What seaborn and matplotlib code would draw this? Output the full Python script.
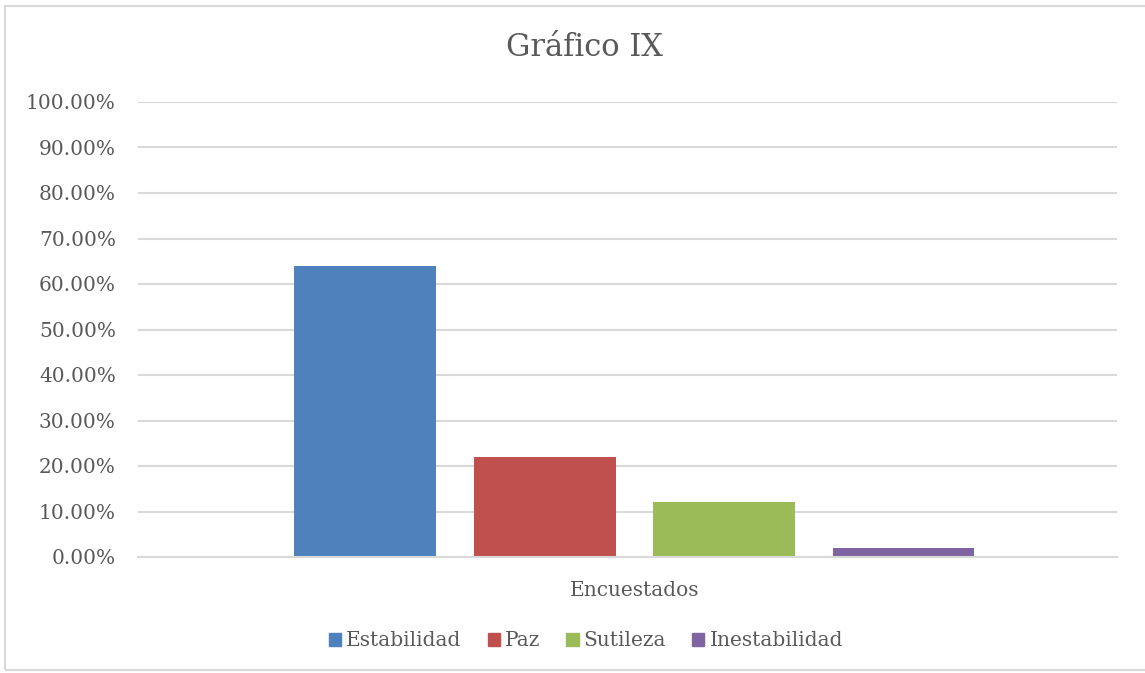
import matplotlib
matplotlib.use("Agg")
import matplotlib.pyplot as plt
import seaborn as sns
import pandas as pd
from matplotlib.patches import Rectangle
from matplotlib.ticker import FuncFormatter

# Survey results
category = ["Encuestados"]
series = ["Estabilidad", "Paz", "Sutileza", "Inestabilidad"]
values = [0.64, 0.22, 0.12, 0.02]
colors = ["#4f81bd", "#c0504d", "#9bbb59", "#8064a2"]
title = "Gráfico IX"

df = pd.DataFrame({"grupo": category * len(series), "serie": series, "valor": values})

sns.set_theme(style="white")
plt.rcParams["font.family"] = ["DejaVu Serif"]
text_color = "#595959"

fig = plt.figure(figsize=(11.45, 6.73), dpi=100)
ax = fig.add_axes([138 / 1145, 1 - 557 / 673, (1117 - 138) / 1145, (557 - 102) / 673])

sns.barplot(data=df, x="grupo", y="valor", hue="serie", hue_order=series,
            palette=colors, width=0.733, gap=0.21, saturation=1, ax=ax,
            legend=False, errorbar=None, linewidth=0)

ax.set_ylim(0, 1.0)
ax.set_xlim(-0.507, 0.493)
ax.set_yticks([i / 10 for i in range(11)])
ax.yaxis.set_major_formatter(FuncFormatter(lambda v, _: f"{v * 100:.2f}%"))
ax.yaxis.grid(True, color="#d9d9d9", linewidth=1.5)
ax.set_axisbelow(True)
for s in ["top", "right", "left"]:
    ax.spines[s].set_visible(False)
ax.spines["bottom"].set_color("#d9d9d9")
ax.spines["bottom"].set_linewidth(1.5)
ax.tick_params(axis="y", length=0, labelsize=14.5, labelcolor=text_color, pad=16)
ax.tick_params(axis="x", length=0, labelsize=14.5, labelcolor=text_color, pad=17)
ax.set_xlabel("")
ax.set_ylabel("")

fig.text(584 / 1145, 1 - 48 / 673, title, ha="center", va="center", fontsize=22, color=text_color)

handles = [Rectangle((0, 0), 1, 1, color=c) for c in colors]
fig.legend(handles, series, loc="center", bbox_to_anchor=(586 / 1145, 1 - 641 / 673),
           ncol=4, frameon=False, fontsize=14.5, labelcolor=text_color,
           handlelength=0.6, handleheight=0.6, handletextpad=0.25, columnspacing=1.3)

# Chart frame
fig.patches.append(Rectangle((5 / 1145, 3 / 673), 1.0, 1 - 9 / 673, transform=fig.transFigure,
                             fill=False, edgecolor="#d9d9d9", linewidth=1.5))

fig.savefig("out.png", dpi=100, facecolor="white")
